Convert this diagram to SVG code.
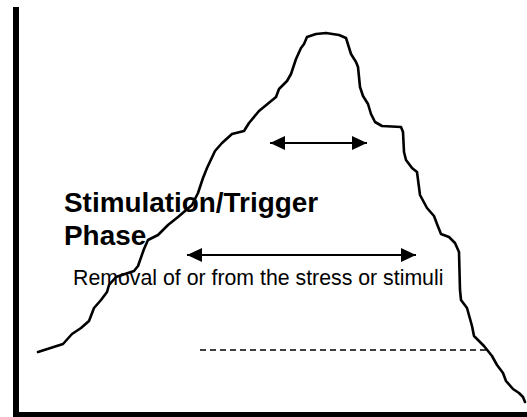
<svg xmlns="http://www.w3.org/2000/svg" width="527" height="417" viewBox="0 0 527 417">
<style>
.axis{stroke:#000;stroke-width:6;fill:none}
.curve{stroke:#000;stroke-width:2.6;fill:none;stroke-linejoin:round;stroke-linecap:round}
.conn{stroke:#000;stroke-width:2;fill:none}
.dash{stroke:#000;stroke-width:1.6;fill:none;stroke-dasharray:6 4}
.title{font-family:"Liberation Sans",Arial,sans-serif;font-weight:bold;font-size:27.9px;fill:#000}
.label{font-family:"Liberation Sans",Arial,sans-serif;font-size:21.3px;fill:#000}
</style>
<defs>
<marker id="ah" viewBox="0 0 15 14" refX="15" refY="7" markerWidth="15" markerHeight="14" markerUnits="userSpaceOnUse" orient="auto-start-reverse">
<path d="M0,0 L15,7 L0,14 Z" fill="#000"/>
</marker>
</defs>
<rect width="527" height="417" fill="#fff"/>
<g id="axes">
<path class="axis" d="M16,7 V415 M13,415 H527"/>
</g>
<g id="curve">
<path class="curve" d="M38,352 L63,344 L72,334 L81,328 L89,321 L94,308 L101,300 L107,292 L109,285 L116,277 L134,271 L138,266 L144,249 L148,240 L158,235 L168,225 L178,217 L192,205 L198,193 L203,178 L207,168 L215,151 L222,143 L232,134 L244,131 L249,123 L259,111 L276,97 L279,89 L287,81 L291,74 L296,59 L301,48 L304,44 L307,37 L316,34 L326,33 L339,35 L346,38 L351,54 L356,62 L358,67 L360,87 L363,96 L368,104 L371,114 L375,122 L382,126 L401,127 L403,132 L404,152 L406,160 L412,168 L417,172 L420,195 L427,208 L434,216 L437,224 L441,234 L449,237 L455,243 L459,252 L460,290 L461,300 L467,308 L472,326 L474,336 L484,346 L492,356 L497,365 L503,373 L506,381 L513,389 L519,393 L523,397 L525,402"/>
</g>
<g id="connectors">
<line class="conn" x1="270" y1="143" x2="367" y2="143" marker-start="url(#ah)" marker-end="url(#ah)"/>
<line class="conn" x1="187" y1="255" x2="416" y2="255" marker-start="url(#ah)" marker-end="url(#ah)"/>
<line class="dash" x1="200" y1="350" x2="489" y2="350"/>
</g>
<g id="phase-label">
<text class="title" x="64" y="212">Stimulation/Trigger</text>
<text class="title" x="64" y="245">Phase</text>
</g>
<g id="removal-label">
<text class="label" x="73" y="285">Removal of or from the stress or stimuli</text>
</g>
</svg>
